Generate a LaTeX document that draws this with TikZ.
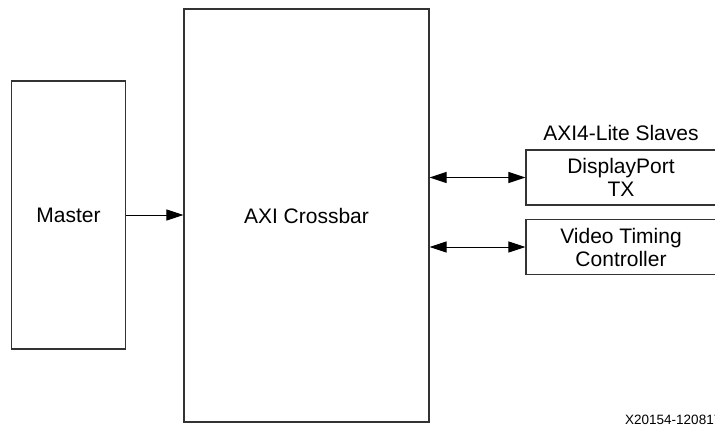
\documentclass[tikz,border=0pt]{standalone}
\usepackage{fontspec}
\setmainfont{Liberation Sans}
\usetikzlibrary{arrows.meta,positioning}

\begin{document}
\begin{tikzpicture}[x=1pt,y=-1pt]

  \definecolor{linecol}{rgb}{0.2,0.2,0.2}

 \tikzset{
      blk/.style={draw=linecol,line width=1.1pt,fill=white,align=center,
        font=\fontsize{21}{23}\selectfont,inner sep=0pt},
      sig/.style={draw=black,line width=1pt,-{Triangle[length=17pt,width=11pt]}},
      bisig/.style={sig,{Triangle[length=17pt,width=11pt]}-{Triangle[length=17pt,width=11pt]}},
    }

  %% page frame
  \useasboundingbox (0,0) rectangle (715,426);

  \node[blk,minimum width=114,minimum height=268] (master) at (68.5,215) {Master};
  \node[blk,minimum width=245,minimum height=413] (xbar) at (306.5,215.5) {AXI Crossbar};

  % slaves on the right, cut by the page edge
  \node[blk,minimum width=190,minimum height=55] (dp) at (621,177.5) {DisplayPort\\TX};
  \node[blk,minimum width=190,minimum height=55] (vtc) at (621,247) {Video Timing\\Controller};

  \node[above=8.5pt of dp,font=\fontsize{21}{23}\selectfont,inner sep=0pt] (slvlbl) {AXI4-Lite Slaves};

  \draw[sig] (master.east) -- (master.east -| xbar.west);
  \draw[bisig] (dp.west -| xbar.east) -- (dp.west);
  \draw[bisig] (vtc.west -| xbar.east) -- (vtc.west);

  \node[anchor=west,font=\fontsize{13.5}{15}\selectfont,inner sep=0pt] (figid) at (625,420) {X20154-120817};

\end{tikzpicture}
\end{document}
